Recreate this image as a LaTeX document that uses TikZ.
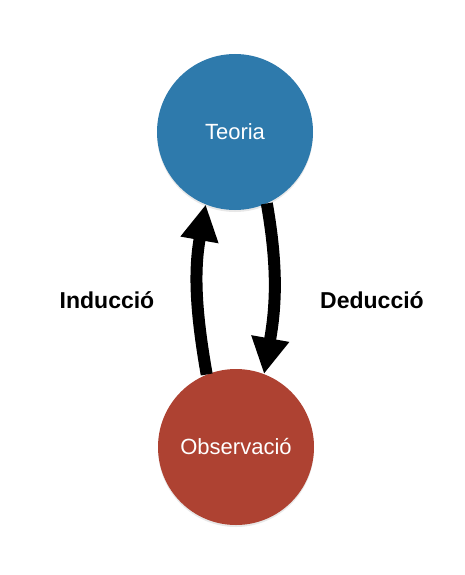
\documentclass[tikz,border=0pt]{standalone}
\usepackage{fontspec}
\setmainfont{Liberation Sans}
\usetikzlibrary{arrows.meta,shadows}
\definecolor{teoblue}{RGB}{46,122,172}
\definecolor{obsred}{RGB}{174,66,50}
\tikzset{
  bubble/.style={circle, minimum size=156pt, inner sep=0pt, text=white,
    font=\fontsize{22}{26}\selectfont,
    drop shadow={opacity=0.18, shadow xshift=0pt, shadow yshift=-2pt}},
  bigarrow/.style={line width=12pt, -{Triangle[length=36pt,width=36pt]}},
  lbl/.style={font=\bfseries\fontsize{23}{27}\selectfont}
}
\begin{document}
\begin{tikzpicture}[x=1pt,y=-1pt]
\useasboundingbox (0,0) rectangle (464,575);
\node[bubble, fill=teoblue] (teo) at (235,132) {Teoria};
\node[bubble, fill=obsred] (obs) at (236,447) {Observació};
\draw[bigarrow] (obs.112) to[out=100,in=260] (teo.248);
\draw[bigarrow] (teo.294) to[out=280,in=80] (obs.69);
\node[lbl] (ind) at (107,300) {Inducció};
\node[lbl] (ded) at (372,300) {Deducció};
\end{tikzpicture}
\end{document}
